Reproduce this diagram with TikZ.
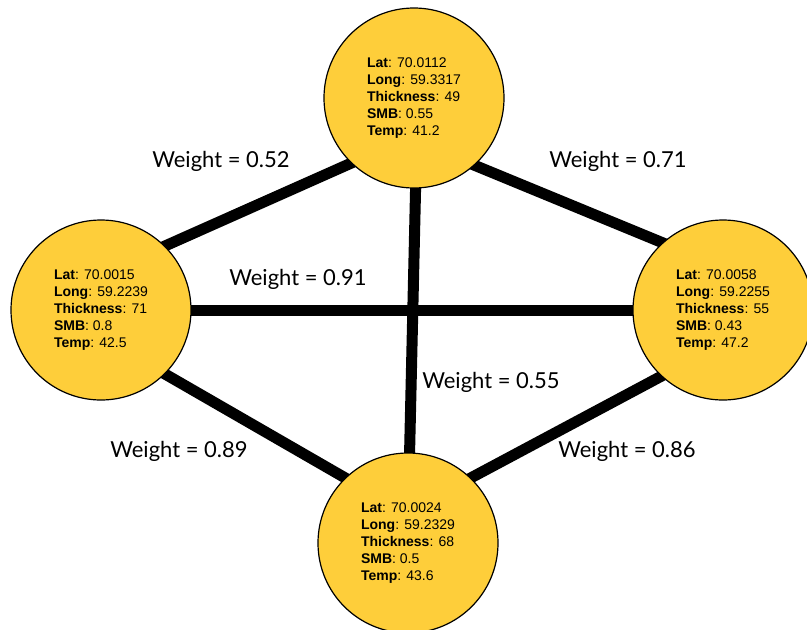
\documentclass[tikz,border=0pt]{standalone}
\usepackage{fontspec}
\setmainfont{Liberation Sans}
\newfontfamily\labelfont{Lato}
\usetikzlibrary{backgrounds}
\definecolor{sitefill}{RGB}{254,206,58}
\tikzset{
  site/.style={circle, draw=black, line width=1.2pt, fill=sitefill,
    minimum size=180pt, inner sep=0pt, align=left,
    font=\fontsize{14}{17}\selectfont,
    execute at begin node=\rule{0pt}{17pt}},
  link/.style={line width=11pt, draw=black, shorten <=-6pt, shorten >=-6pt},
  wlabel/.style={font=\labelfont\fontsize{22}{26}\selectfont, inner sep=0pt}
}
\begin{document}
\begin{tikzpicture}[x=1pt,y=-1pt]
\useasboundingbox (0,0) rectangle (807,630);

% grid sites
\node[site] (T) at (414,98) {\textbf{Lat}: 70.0112\\\textbf{Long}: 59.3317\\\textbf{Thickness}: 49\\\textbf{SMB}: 0.55\\\textbf{Temp}: 41.2};
\node[site] (L) at (101,310) {\textbf{Lat}: 70.0015\\\textbf{Long}: 59.2239\\\textbf{Thickness}: 71\\\textbf{SMB}: 0.8\\\textbf{Temp}: 42.5};
\node[site] (R) at (723,310) {\textbf{Lat}: 70.0058\\\textbf{Long}: 59.2255\\\textbf{Thickness}: 55\\\textbf{SMB}: 0.43\\\textbf{Temp}: 47.2};
\node[site] (B) at (408,543) {\textbf{Lat}: 70.0024\\\textbf{Long}: 59.2329\\\textbf{Thickness}: 68\\\textbf{SMB}: 0.5\\\textbf{Temp}: 43.6};

% weighted links, drawn behind the sites
\begin{scope}[on background layer]
\draw[link] (L.45) -- (T.226);
\draw[link] (T.-48) -- (R.132);
\draw[link] (L.east) -- (R.west);
\draw[link] (T.-89.4) -- (B.89.4);
\draw[link] (L.-45) -- (B.134);
\draw[link] (B.46) -- (R.227);
\end{scope}

% weights
\node[wlabel] (w1) at (221,161) {Weight = 0.52};
\node[wlabel] (w2) at (618,161) {Weight = 0.71};
\node[wlabel] (w3) at (298,279) {Weight = 0.91};
\node[wlabel] (w4) at (491,382) {Weight = 0.55};
\node[wlabel] (w5) at (179,451) {Weight = 0.89};
\node[wlabel] (w6) at (627,451) {Weight = 0.86};
\end{tikzpicture}
\end{document}
